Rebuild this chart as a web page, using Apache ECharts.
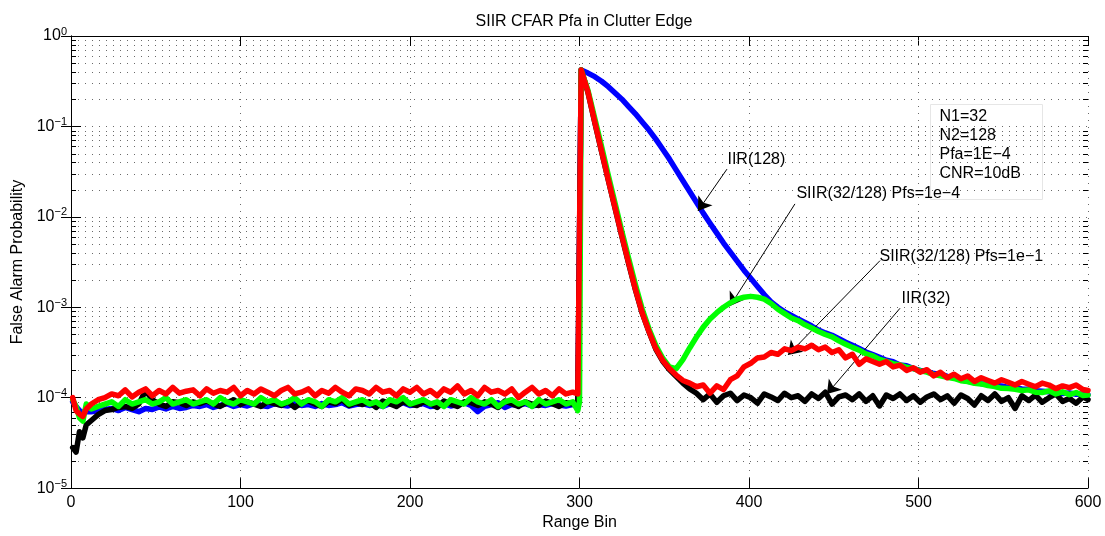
<!DOCTYPE html>
<html><head><meta charset="utf-8">
<script src="https://cdn.jsdelivr.net/npm/echarts@6/dist/echarts.min.js"></script>
<style>html,body{margin:0;padding:0;background:#fff}#c{width:1105px;height:536px}</style>
</head><body><div id="c"></div>
<script>
// ---------------- data ----------------
const rangeBin = [
 1,3,5,7,9,
 12,16,20,24,28,32,36,40,
 44,48,52,56,60,64,68,72,
 76,80,84,88,92,96,100,104,
 108,112,116,120,124,128,132,136,
 140,144,148,152,156,160,164,168,
 172,176,180,184,188,192,196,200,
 204,208,212,216,220,224,228,232,
 236,240,244,248,252,256,260,264,
 268,272,276,280,284,288,292,296,
 299,300,
 301,305,309,313,317,321,325,329,
 333,337,341,345,349,353,357,361,
 365,369,373,377,381,385,389,393,
 397,401,405,409,413,417,421,425,
 429,433,437,441,445,449,453,457,
 461,465,469,473,477,481,485,489,
 493,497,501,505,509,513,517,521,
 525,529,533,537,541,545,549,553,
 557,561,565,569,573,577,581,585,
 589,593,597,600
];

const iir128 = [
 0.9e-4,0.8e-4,0.72e-4,0.68e-4,0.7e-4,
 0.7e-4,0.72e-4,0.74e-4,0.76e-4,0.72e-4,0.78e-4,0.74e-4,0.7e-4,
 0.76e-4,0.74e-4,0.79e-4,0.75e-4,0.8e-4,0.76e-4,0.78e-4,0.82e-4,
 0.8e-4,0.84e-4,0.78e-4,0.82e-4,0.86e-4,0.8e-4,0.84e-4,0.81e-4,
 0.86e-4,0.82e-4,0.8e-4,0.86e-4,0.83e-4,0.81e-4,0.86e-4,0.82e-4,
 0.84e-4,0.8e-4,0.86e-4,0.82e-4,0.84e-4,0.88e-4,0.81e-4,0.84e-4,
 0.86e-4,0.82e-4,0.84e-4,0.8e-4,0.86e-4,0.83e-4,0.88e-4,0.82e-4,
 0.84e-4,0.86e-4,0.8e-4,0.82e-4,0.86e-4,0.81e-4,0.84e-4,0.88e-4,
 0.82e-4,0.7e-4,0.8e-4,0.84e-4,0.88e-4,0.78e-4,0.84e-4,0.82e-4,
 0.86e-4,0.81e-4,0.84e-4,0.82e-4,0.86e-4,0.83e-4,0.81e-4,0.84e-4,
 0.82e-4,0.86e-4,
 0.42,0.389,0.355,0.316,0.275,0.234,0.200,0.166,
 0.138,0.112,0.0912,0.0724,0.0562,0.0437,0.0331,0.0251,
 0.0191,0.0145,0.0110,0.00851,0.00661,0.00513,0.00407,0.00324,
 0.00257,0.00209,0.00170,0.00138,0.00115,0.00100,8.9e-4,8.1e-4,
 7.4e-4,6.8e-4,6.2e-4,5.6e-4,5.2e-4,4.9e-4,4.5e-4,4.1e-4,
 3.8e-4,3.5e-4,3.2e-4,3.0e-4,2.8e-4,2.6e-4,2.5e-4,2.3e-4,
 2.25e-4,2.1e-4,2.0e-4,1.95e-4,1.85e-4,1.82e-4,1.72e-4,1.68e-4,
 1.58e-4,1.52e-4,1.48e-4,1.43e-4,1.41e-4,1.36e-4,1.35e-4,1.30e-4,
 1.29e-4,1.25e-4,1.24e-4,1.19e-4,1.18e-4,1.16e-4,1.15e-4,1.11e-4,
 1.13e-4,1.09e-4,1.1e-4,1.07e-4
];

const iir32 = [
 0.28e-4,0.25e-4,0.42e-4,0.36e-4,0.5e-4,
 0.56e-4,0.65e-4,0.72e-4,0.74e-4,0.78e-4,0.8e-4,0.76e-4,0.85e-4,
 1.2e-4,0.95e-4,0.85e-4,0.8e-4,0.9e-4,0.88e-4,0.82e-4,0.9e-4,
 0.86e-4,0.92e-4,0.85e-4,0.8e-4,0.88e-4,0.95e-4,0.84e-4,0.9e-4,
 0.85e-4,0.8e-4,0.9e-4,0.86e-4,0.82e-4,0.9e-4,0.78e-4,0.88e-4,
 0.92e-4,0.85e-4,0.8e-4,0.9e-4,0.86e-4,0.95e-4,0.82e-4,0.88e-4,
 0.84e-4,0.9e-4,0.78e-4,0.92e-4,0.86e-4,0.8e-4,0.9e-4,0.85e-4,
 0.82e-4,0.9e-4,0.86e-4,0.78e-4,0.92e-4,0.85e-4,0.8e-4,0.9e-4,
 0.88e-4,0.82e-4,0.9e-4,0.85e-4,0.78e-4,0.92e-4,0.86e-4,0.8e-4,
 0.9e-4,0.85e-4,0.82e-4,0.92e-4,0.86e-4,0.8e-4,0.88e-4,0.85e-4,
 0.9e-4,0.92e-4,
 0.42,0.238,0.111,0.053,0.0254,0.0124,0.0061,0.00305,
 0.00156,8.6e-4,5.35e-4,3.45e-4,2.55e-4,2.05e-4,1.72e-4,1.45e-4,
 1.25e-4,1.12e-4,9.5e-5,1.1e-4,8.9e-5,1.05e-4,1.12e-4,9.3e-5,
 1.07e-4,1.0e-4,8.7e-5,1.1e-4,1.02e-4,9.3e-5,1.12e-4,1.0e-4,
 1.05e-4,9.1e-5,1.1e-4,9.8e-5,1.15e-4,8.5e-5,1.02e-4,1.07e-4,
 9.5e-5,1.1e-4,9.1e-5,1.05e-4,8.1e-5,1.07e-4,9.8e-5,1.1e-4,
 9.3e-5,1.05e-4,8.9e-5,1.02e-4,1.1e-4,9.5e-5,1.05e-4,8.7e-5,
 1.07e-4,9.8e-5,8.3e-5,1.05e-4,9.3e-5,1.1e-4,9.1e-5,1.0e-4,
 7.6e-5,1.05e-4,9.3e-5,1.07e-4,8.9e-5,1.0e-4,1.1e-4,9.1e-5,
 9.8e-5,8.7e-5,1.02e-4,9.5e-5
];

const siirPfs1e4 = [
 0.95e-4,0.8e-4,0.6e-4,0.55e-4,0.85e-4,
 0.75e-4,0.8e-4,0.85e-4,0.9e-4,0.8e-4,0.95e-4,0.85e-4,0.9e-4,
 0.95e-4,0.85e-4,0.9e-4,1.0e-4,0.85e-4,0.9e-4,0.95e-4,0.85e-4,
 0.9e-4,0.95e-4,0.85e-4,1.0e-4,0.9e-4,0.85e-4,0.95e-4,0.9e-4,
 0.85e-4,1.0e-4,0.9e-4,0.95e-4,0.85e-4,0.9e-4,1.0e-4,0.85e-4,
 0.95e-4,0.9e-4,0.8e-4,0.95e-4,0.9e-4,1.0e-4,0.85e-4,0.9e-4,
 0.95e-4,0.85e-4,0.9e-4,0.8e-4,0.95e-4,0.9e-4,1.0e-4,0.85e-4,
 0.9e-4,0.95e-4,0.85e-4,0.9e-4,0.8e-4,0.95e-4,0.9e-4,0.85e-4,
 1.0e-4,0.9e-4,0.85e-4,0.95e-4,0.8e-4,0.9e-4,0.95e-4,0.85e-4,
 0.9e-4,0.8e-4,0.95e-4,0.85e-4,0.9e-4,0.95e-4,0.85e-4,0.9e-4,
 0.72e-4,0.9e-4,
 0.42,0.251,0.123,0.0603,0.0288,0.0141,0.00692,0.00347,
 0.00178,9.55e-4,5.75e-4,3.8e-4,2.75e-4,2.19e-4,2.09e-4,2.63e-4,
 3.55e-4,4.68e-4,6.03e-4,7.41e-4,8.71e-4,1.0e-3,1.12e-3,1.23e-3,
 1.29e-3,1.32e-3,1.29e-3,1.23e-3,1.1e-3,9.5e-4,8.5e-4,7.6e-4,
 7.1e-4,6.4e-4,5.9e-4,5.4e-4,5.0e-4,4.7e-4,4.25e-4,3.9e-4,
 3.6e-4,3.35e-4,3.05e-4,2.9e-4,2.65e-4,2.52e-4,2.38e-4,2.3e-4,
 2.17e-4,2.1e-4,1.98e-4,1.92e-4,1.8e-4,1.75e-4,1.68e-4,1.63e-4,
 1.54e-4,1.51e-4,1.44e-4,1.42e-4,1.36e-4,1.33e-4,1.27e-4,1.26e-4,
 1.24e-4,1.2e-4,1.22e-4,1.15e-4,1.14e-4,1.19e-4,1.1e-4,1.16e-4,
 1.08e-4,1.14e-4,1.06e-4,1.07e-4
];

const siirPfs1e1 = [
 1.0e-4,0.72e-4,0.66e-4,0.62e-4,0.75e-4,
 0.85e-4,0.95e-4,1.0e-4,1.1e-4,1.05e-4,1.22e-4,1.02e-4,1.15e-4,
 1.25e-4,1.05e-4,1.2e-4,1.1e-4,1.3e-4,1.12e-4,1.18e-4,1.22e-4,
 1.05e-4,1.25e-4,1.12e-4,1.2e-4,1.15e-4,1.3e-4,1.05e-4,1.2e-4,
 1.1e-4,1.25e-4,1.15e-4,1.05e-4,1.2e-4,1.3e-4,1.1e-4,1.15e-4,
 1.25e-4,1.05e-4,1.2e-4,1.12e-4,1.3e-4,1.15e-4,1.05e-4,1.25e-4,
 1.2e-4,1.1e-4,1.3e-4,1.15e-4,1.2e-4,1.05e-4,1.25e-4,1.15e-4,
 1.3e-4,1.1e-4,1.2e-4,1.05e-4,1.25e-4,1.15e-4,1.35e-4,1.1e-4,
 1.2e-4,1.05e-4,1.3e-4,1.15e-4,1.2e-4,1.1e-4,1.25e-4,1.0e-4,
 1.15e-4,1.3e-4,1.1e-4,1.2e-4,1.05e-4,1.25e-4,1.1e-4,1.15e-4,
 1.1e-4,1.05e-4,
 0.42,0.24,0.112,0.0537,0.0257,0.0126,0.00617,0.00309,
 0.00158,8.7e-4,5.4e-4,3.5e-4,2.6e-4,2.1e-4,1.78e-4,1.55e-4,
 1.45e-4,1.32e-4,1.38e-4,1.12e-4,1.35e-4,1.23e-4,1.58e-4,1.74e-4,
 2.19e-4,2.4e-4,2.75e-4,2.82e-4,3.16e-4,3.02e-4,3.47e-4,3.31e-4,
 3.63e-4,3.47e-4,3.8e-4,3.39e-4,3.63e-4,3.16e-4,3.39e-4,2.75e-4,
 3.02e-4,2.34e-4,2.69e-4,2.51e-4,2.34e-4,2.51e-4,2.19e-4,2.29e-4,
 2.0e-4,2.14e-4,1.91e-4,2.04e-4,1.74e-4,1.91e-4,1.66e-4,1.82e-4,
 1.62e-4,1.74e-4,1.51e-4,1.66e-4,1.55e-4,1.45e-4,1.58e-4,1.48e-4,
 1.38e-4,1.51e-4,1.41e-4,1.32e-4,1.45e-4,1.38e-4,1.26e-4,1.35e-4,
 1.29e-4,1.38e-4,1.23e-4,1.2e-4
];

// axis tick values
const xTickValues = [0, 100, 200, 300, 400, 500, 600];
const yDecades = [1e-5, 1e-4, 1e-3, 1e-2, 1e-1, 1];
const yMinorMultipliers = [2, 3, 4, 5, 6, 7, 8, 9];

// annotations: label anchor (left-middle), arrow tail, arrow head — in data units
const annotLabels = ['IIR(128)', 'SIIR(32/128) Pfs=1e\u22124', 'SIIR(32/128) Pfs=1e\u22121', 'IIR(32)'];
const annotLabelAt = [[387, 0.0434], [427.7, 0.0179], [476.7, 3.63e-3], [489.7, 1.26e-3]];
const annotArrowFrom = [[387, 0.0337], [427.1, 0.0139], [477.3, 3.28e-3], [489.1, 9.75e-4]];
const annotArrowTo = [[369.9, 0.01164], [388.8, 1.03e-3], [423.0, 2.97e-4], [446.0, 1.1e-4]];

const noteLines = ['N1=32', 'N2=128', 'Pfa=1E\u22124', 'CNR=10dB'];

// ---------------- chart ----------------
const FONT = '"Liberation Sans", Arial, Helvetica, sans-serif';
const chart = echarts.init(document.getElementById('c'), null, {renderer: 'canvas'});

const pairs = arr => rangeBin.map((b, i) => [b, arr[i]]);
const minorValues = [];
for (let d = 0; d < yDecades.length - 1; d++) {
  for (const m of yMinorMultipliers) minorValues.push([0, yDecades[d] * m]);
}

const supLabel = v => {
  const e = Math.round(Math.log10(v));
  return '{b|10}{s|' + (e < 0 ? '\u2212' + (-e) : String(e)) + '}';
};

const GRID_COLOR = '#6a6a6a';
const gridLine = {show: true, lineStyle: {color: GRID_COLOR, width: 1, type: [1, 6]}};
const axisLineStyle = {show: true, lineStyle: {color: '#000', width: 1}};

const lineSeries = (name, arr, color, z) => ({
  name, type: 'line', data: pairs(arr), showSymbol: false, symbol: 'none',
  lineStyle: {color, width: 5.5, join: 'round', cap: 'round'},
  itemStyle: {color}, z, clip: true, silent: true, animation: false
});

chart.setOption({
  animation: false,
  backgroundColor: '#fff',
  title: {
    text: 'SIIR CFAR Pfa in Clutter Edge',
    left: 579, top: 9, textAlign: 'center',
    textStyle: {fontFamily: FONT, fontSize: 16, fontWeight: 'normal', color: '#000'}
  },
  grid: {left: 71, right: 17, top: 36, bottom: 45, containLabel: false},
  xAxis: [{
    type: 'value', min: 0, max: 600, interval: 100, position: 'bottom',
    name: 'Range Bin', nameLocation: 'middle', nameGap: 23,
    nameTextStyle: {fontFamily: FONT, fontSize: 16, color: '#000'},
    axisLine: axisLineStyle,
    axisTick: {show: true, inside: true, length: 10, lineStyle: {color: '#000'}},
    axisLabel: {fontFamily: FONT, fontSize: 16, color: '#000', margin: 6,
      customValues: xTickValues},
    splitLine: gridLine
  }, {
    type: 'value', min: 0, max: 600, interval: 100, position: 'top',
    axisLine: axisLineStyle,
    axisTick: {show: true, inside: true, length: 10, lineStyle: {color: '#000'}},
    axisLabel: {show: false}, splitLine: {show: false}
  }],
  yAxis: [{
    type: 'log', logBase: 10, min: 1e-5, max: 1, position: 'left',
    name: 'False Alarm Probability', nameLocation: 'middle', nameGap: 44,
    nameTextStyle: {fontFamily: FONT, fontSize: 16, color: '#000'},
    axisLine: axisLineStyle,
    axisTick: {show: true, inside: true, length: 10, lineStyle: {color: '#000'}},
    axisLabel: {
      margin: 4, formatter: supLabel,
      rich: {
        b: {fontFamily: FONT, fontSize: 16, color: '#000', lineHeight: 20},
        s: {fontFamily: FONT, fontSize: 11, color: '#000', verticalAlign: 'top', lineHeight: 11}
      }
    },
    splitLine: gridLine
  }, {
    type: 'log', logBase: 10, min: 1e-5, max: 1, position: 'right',
    axisLine: axisLineStyle,
    axisTick: {show: true, inside: true, length: 10, lineStyle: {color: '#000'}},
    axisLabel: {show: false}, splitLine: {show: false}
  }],
  series: [
    {
      type: 'custom', name: 'minorGrid', silent: true, z: 1,
      xAxisIndex: 0, yAxisIndex: 0,
      data: minorValues, encode: {x: 0, y: 1},
      renderItem: (params, api) => {
        const cs = params.coordSys;
        const y = Math.round(api.coord([0, api.value(1)])[1]) + 0.5;
        return {type: 'group', children: [
          {type: 'line', shape: {x1: cs.x, y1: y, x2: cs.x + cs.width, y2: y},
           style: {stroke: GRID_COLOR, lineWidth: 1, lineDash: [1, 6]}},
          {type: 'line', shape: {x1: cs.x, y1: y, x2: cs.x + 5, y2: y},
           style: {stroke: '#000', lineWidth: 1}},
          {type: 'line', shape: {x1: cs.x + cs.width - 5, y1: y, x2: cs.x + cs.width, y2: y},
           style: {stroke: '#000', lineWidth: 1}}
        ]};
      }
    },
    lineSeries('IIR(128)', iir128, '#0000ff', 3),
    lineSeries('IIR(32)', iir32, '#000000', 4),
    lineSeries('SIIR(32/128) Pfs=1e-4', siirPfs1e4, '#00ff00', 5),
    Object.assign(lineSeries('SIIR(32/128) Pfs=1e-1', siirPfs1e1, '#ff0000', 6), {
      markLine: {
        silent: true, animation: false,
        symbol: ['none', 'arrow'], symbolSize: 13,
        lineStyle: {color: '#000', width: 1, type: 'solid'},
        label: {show: false},
        data: annotArrowFrom.map((f, i) => [{coord: f}, {coord: annotArrowTo[i]}])
      },
      markPoint: {
        silent: true, animation: false,
        symbol: 'circle', symbolSize: 1,
        itemStyle: {color: 'rgba(0,0,0,0)'},
        label: {show: true, position: 'right', distance: 0, formatter: '{b}',
          fontFamily: FONT, fontSize: 16, color: '#000'},
        data: annotLabels.map((t, i) => ({name: t, coord: annotLabelAt[i]}))
      }
    })
  ],
  graphic: [{
    type: 'group', left: 930, top: 104, z: 100, silent: true,
    children: [
      {type: 'rect', shape: {x: 0, y: 0, width: 112, height: 95},
       style: {fill: 'rgba(255,255,255,0)', stroke: '#e6e6e6', lineWidth: 1}},
      {type: 'text', x: 9, y: 3,
       style: {text: noteLines.join('\n'), font: '16px ' + FONT, fill: '#000', lineHeight: 19}}
    ]
  }]
});
</script>
</body></html>
